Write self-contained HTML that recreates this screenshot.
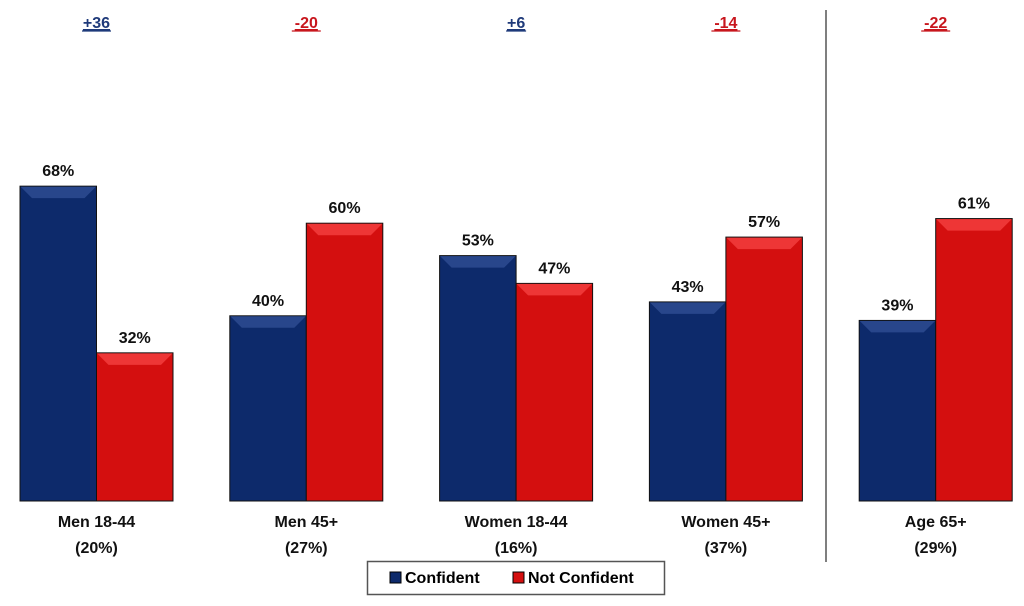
<!DOCTYPE html>
<html><head><meta charset="utf-8"><style>
body{margin:0;background:#fff;width:1024px;height:601px;overflow:hidden;font-family:"Liberation Sans",sans-serif}
svg text{font-family:"Liberation Sans",sans-serif;font-weight:bold}
</style></head><body>
<svg id="chart" width="1024" height="601" viewBox="0 0 1024 601" xmlns="http://www.w3.org/2000/svg">
<line x1="826" y1="10" x2="826" y2="562" stroke="#555" stroke-width="1.5"/>
<g>
<rect x="367.5" y="561.5" width="297" height="33" fill="#fff" stroke="#555" stroke-width="1.5"/>
<rect x="390" y="572" width="11" height="11" fill="#0d2a6b" stroke="#000" stroke-width="1"/>
<text x="405" y="583" font-size="16">Confident</text>
<rect x="513" y="572" width="11" height="11" fill="#d40f0f" stroke="#000" stroke-width="1"/>
<text x="528" y="583" font-size="16">Not Confident</text>
</g>
</svg>
<script>
const categories=["Men 18-44","Men 45+","Women 18-44","Women 45+","Age 65+"];
const shares=["(20%)","(27%)","(16%)","(37%)","(29%)"];
const confident=[68,40,53,43,39];
const notConfident=[32,60,47,57,61];
const diffLabels=["+36","-20","+6","-14","-22"];
const svg=document.getElementById('chart');
const NS="http://www.w3.org/2000/svg";
const base=501, scale=4.63, x0=20, step=209.8, bw=76.5;
function yv(v){return base-v*scale;}
function mk(tag,attrs){const e=document.createElementNS(NS,tag);for(const k in attrs)e.setAttribute(k,attrs[k]);svg.appendChild(e);return e;}
function bar(x,v,fill,light,name){
  const y=yv(v),h=base-y;
  const r=mk('rect',{x:x,y:y,width:bw,height:h,fill:fill,stroke:'#111','stroke-width':1});
  
  
  const p=mk('polygon',{points:`${x+0.5},${y+0.5} ${x+bw-0.5},${y+0.5} ${x+bw-12},${y+12} ${x+12},${y+12}`,fill:light,opacity:0.6});
  
  
  const t=mk('text',{x:x+bw/2,y:y-10,'text-anchor':'middle','font-size':16,fill:'#111'});
  t.textContent=v+'%';
  
  
}
categories.forEach((c,i)=>{
  const gx=x0+i*step;
  bar(gx,confident[i],'#0d2a6b','#3a5aa0','bar-confident-'+(i+1));
  bar(gx+bw,notConfident[i],'#d40f0f','#ff5050','bar-not-confident-'+(i+1));
  const cx=gx+bw;
  const l1=mk('text',{x:cx,y:527,'text-anchor':'middle','font-size':16,fill:'#111'});
  l1.textContent=c;
  
  
  const l2=mk('text',{x:cx,y:553,'text-anchor':'middle','font-size':16,fill:'#111'});
  l2.textContent=shares[i];
  
  
  const neg=diffLabels[i].startsWith('-');
  const d=mk('text',{x:cx,y:28,'text-anchor':'middle','font-size':16,fill:neg?'#c8161d':'#1f3a7a','text-decoration':'underline'});
  d.textContent=diffLabels[i];
  
  
  const w=diffLabels[i].length*9+2;
  const u=mk('line',{x1:cx-w/2,x2:cx+w/2,y1:31,y2:31,stroke:neg?'#c8161d':'#1f3a7a','stroke-width':1.3});
  
  
});
</script>
</body></html>
